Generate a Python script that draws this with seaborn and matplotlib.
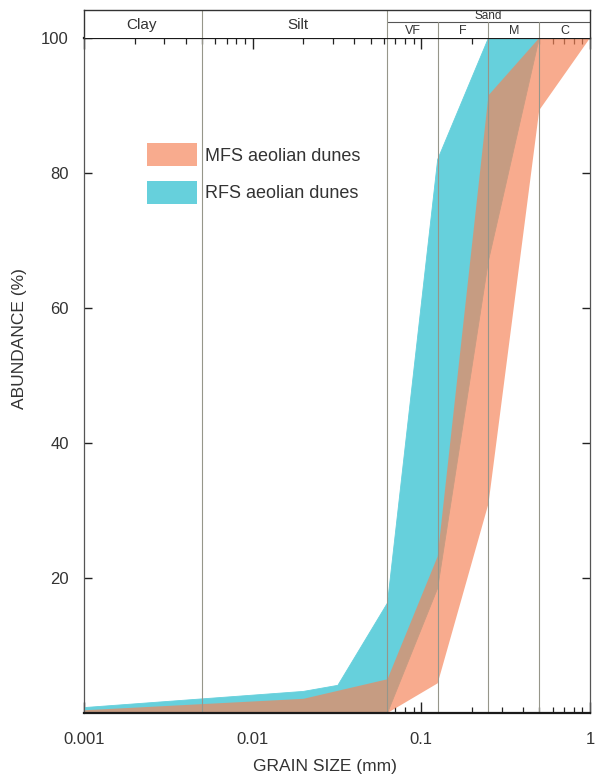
import matplotlib
matplotlib.use("Agg")
import matplotlib.pyplot as plt
from matplotlib.patches import Patch
from matplotlib.ticker import LogLocator, FixedLocator, NullFormatter, FixedFormatter
import seaborn as sns
import numpy as np

# ---------------- data ----------------
# RFS aeolian dunes envelope (cumulative abundance, %)
rfs_upper_size = [0.001, 0.02, 0.032, 0.063, 0.125, 0.25, 1.0]
rfs_upper_pct = [0.8, 3.2, 4.1, 16.3, 82.0, 100.0, 100.0]
rfs_lower_size = [0.001, 0.063, 0.125, 0.25, 0.5, 1.0]
rfs_lower_pct = [0.0, 0.0, 18.5, 67.0, 100.0, 100.0]

# MFS aeolian dunes envelope
mfs_upper_size = [0.001, 0.02, 0.063, 0.125, 0.25, 0.5, 1.0]
mfs_upper_pct = [0.4, 2.1, 5.0, 23.2, 91.5, 100.0, 100.0]
mfs_lower_size = [0.001, 0.063, 0.125, 0.25, 0.5, 1.0]
mfs_lower_pct = [0.0, 0.0, 4.4, 31.0, 89.3, 100.0]

series_labels = ["MFS aeolian dunes", "RFS aeolian dunes"]

# grain-size class boundaries (mm)
class_bounds = [0.005, 0.063, 0.125, 0.25, 0.5]
main_classes = ["Clay", "Silt"]
main_class_pos = [0.0022, 0.0185]
sand_label = "Sand"
sand_label_pos = 0.25
sand_sub = ["VF", "F", "M", "C"]
sand_sub_pos = [0.089, 0.177, 0.354, 0.707]

x_ticks = [0.001, 0.01, 0.1, 1]
x_ticklabels = ["0.001", "0.01", "0.1", "1"]
y_ticks = [20, 40, 60, 80, 100]
y_ticklabels = ["20", "40", "60", "80", "100"]

# ---------------- style ----------------
sns.set_style("ticks")
plt.rcParams["font.family"] = ["Liberation Sans", "DejaVu Sans"]
TXT = "#333333"
CYAN = "#66D0DC"
SALMON = (245 / 255, 132 / 255, 88 / 255)
SALMON_ALPHA = 0.68
LINEC = "#96968a"

W, H = 595, 778
fig = plt.figure(figsize=(W / 100, H / 100), dpi=100)
fig.patch.set_facecolor("white")

L, R, T, B = 84, 590, 38, 713
ax = fig.add_axes([L / W, 1 - B / H, (R - L) / W, (B - T) / H])
ax.set_xscale("log")
ax.set_xlim(0.001, 1)
ax.set_ylim(0, 100)

# RFS band (cyan, drawn first)
ax.fill(rfs_upper_size + rfs_lower_size[::-1], rfs_upper_pct + rfs_lower_pct[::-1],
        facecolor=CYAN, edgecolor="none", zorder=1)
sns.lineplot(x=rfs_upper_size, y=rfs_upper_pct, ax=ax, color=CYAN, lw=0.6, zorder=1)
sns.lineplot(x=rfs_lower_size, y=rfs_lower_pct, ax=ax, color=CYAN, lw=0.6, zorder=1)

# MFS band (salmon, translucent on top)
ax.fill(mfs_upper_size + mfs_lower_size[::-1], mfs_upper_pct + mfs_lower_pct[::-1],
        facecolor=SALMON, alpha=SALMON_ALPHA, edgecolor="none", zorder=2)

# class boundary lines
for b in class_bounds:
    ax.axvline(b, color=LINEC, lw=0.8, zorder=3)

# ticks
ax.xaxis.set_major_locator(FixedLocator(x_ticks))
ax.xaxis.set_major_formatter(FixedFormatter(x_ticklabels))
ax.xaxis.set_minor_locator(LogLocator(base=10, subs=np.arange(2, 10)))
ax.xaxis.set_minor_formatter(NullFormatter())
ax.yaxis.set_major_locator(FixedLocator(y_ticks))
ax.yaxis.set_major_formatter(FixedFormatter(y_ticklabels))
ax.tick_params(axis="x", which="major", direction="in", top=True, bottom=True,
               length=8, width=1.0, color="#222222", labelsize=12, labelcolor=TXT, pad=14)
ax.tick_params(axis="x", which="minor", direction="in", top=True, bottom=True,
               length=4, width=0.9, color="#222222")
ax.tick_params(axis="y", which="major", direction="in", left=True, right=True,
               length=6, width=1.0, color="#222222", labelsize=12, labelcolor=TXT, pad=11)

for s in ["top", "bottom"]:
    ax.spines[s].set_linewidth(1.6)
    ax.spines[s].set_color("#1a1a1a")
for s in ["left", "right"]:
    ax.spines[s].set_linewidth(0.9)
    ax.spines[s].set_color("#555555")
for s in ax.spines.values():
    s.set_zorder(5)

ax.set_xlabel("GRAIN SIZE (mm)", fontsize=12.5, color=TXT)
ax.set_ylabel("ABUNDANCE (%)", fontsize=12.5, color=TXT)
ax.xaxis.set_label_coords((325 - L) / (R - L), (B - 759) / (B - T))
ax.yaxis.set_label_coords((27 - L) / (R - L), (B - 339) / (B - T))

# legend
handles = [Patch(facecolor=SALMON, alpha=SALMON_ALPHA, edgecolor="none"),
           Patch(facecolor=CYAN, edgecolor="none")]
ax.legend(handles, series_labels, loc="upper left",
          bbox_to_anchor=((147 - L) / (R - L), (B - 143) / (B - T)),
          frameon=False, fontsize=13, handlelength=2.75, handleheight=1.6,
          handletextpad=0.45, labelspacing=0.8, borderpad=0, borderaxespad=0,
          labelcolor=TXT)

# header with grain-size classes
HT = 10
hx = fig.add_axes([L / W, 1 - T / H, (R - L) / W, (T - HT) / H])
hx.set_xscale("log")
hx.set_xlim(0.001, 1)
hx.set_ylim(0, 1)
hx.set_xticks([])
hx.set_yticks([])
hx.minorticks_off()
hx.tick_params(which="both", bottom=False, left=False, top=False, right=False,
               labelbottom=False, labelleft=False)
for s in ["top", "left", "right"]:
    hx.spines[s].set_linewidth(1.0)
    hx.spines[s].set_color("#333333")
hx.spines["bottom"].set_visible(False)
sub_y = (T - 22) / (T - HT)
hx.plot([0.063, 1], [sub_y, sub_y], color="#555555", lw=0.8)
hx.plot([0.005, 0.005], [0, 1], color=LINEC, lw=0.8)
hx.plot([0.063, 0.063], [0, 1], color=LINEC, lw=0.8)
for b in [0.125, 0.25, 0.5]:
    hx.plot([b, b], [0, sub_y], color=LINEC, lw=0.8)
for lab, xp in zip(main_classes, main_class_pos):
    hx.text(xp, 0.45, lab, ha="center", va="center", fontsize=11, color=TXT)
hx.text(sand_label_pos, (sub_y + 1) / 2, sand_label, ha="center", va="center",
        fontsize=8.5, color=TXT)
for lab, xp in zip(sand_sub, sand_sub_pos):
    hx.text(xp, sub_y / 2 - 0.03, lab, ha="center", va="center", fontsize=9, color=TXT)

fig.savefig("out.png", dpi=100, facecolor="white")
